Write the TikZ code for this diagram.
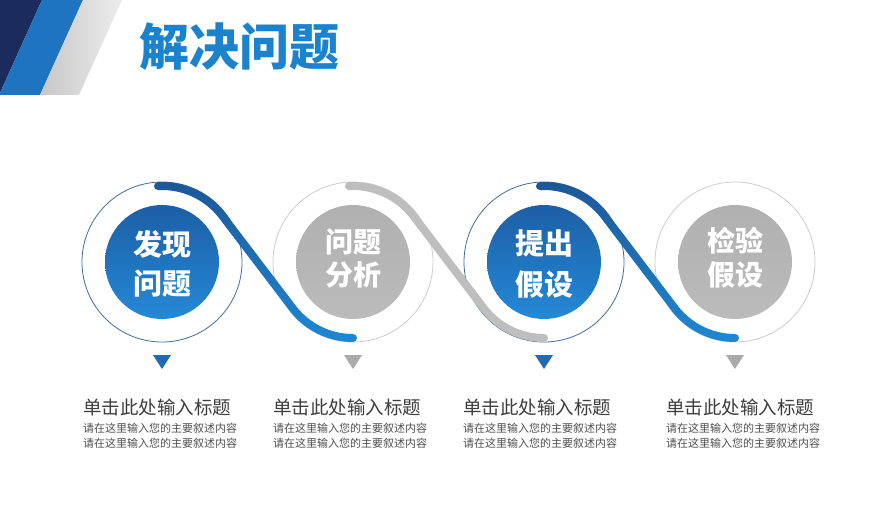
\documentclass[tikz,border=0pt]{standalone}
\usepackage{fontspec}
\newfontfamily\cjk{Noto Sans CJK SC}
\usetikzlibrary{calc}
\definecolor{navy}{HTML}{1B2B5B}
\definecolor{mblue}{HTML}{1E74C0}
\definecolor{tblue}{HTML}{1B83CE}
\definecolor{dblue}{HTML}{1C5798}
\definecolor{lblue}{HTML}{1E88D3}
\definecolor{ringblue}{HTML}{3F6E9E}
\definecolor{ringgray}{HTML}{CDCDCD}
\definecolor{cgraytop}{HTML}{B0B0B0}
\definecolor{cgraybot}{HTML}{BBBBBB}
\definecolor{cbluetop}{HTML}{1C5FA6}
\definecolor{cbluebot}{HTML}{2589D6}
\definecolor{sgray}{HTML}{BEBEBE}
\definecolor{tgray}{HTML}{AAAAAA}
\definecolor{tbluetri}{HTML}{1E6AB3}
\definecolor{htext}{HTML}{3D3D3D}
\definecolor{btext}{HTML}{505050}
\tikzset{
  ring/.style={circle, draw=#1, line width=0.8pt, minimum size=160pt, inner sep=0pt},
  coreblue/.style={circle, minimum size=114pt, inner sep=0pt, top color=cbluetop, bottom color=cbluebot},
  coregray/.style={circle, minimum size=114pt, inner sep=0pt, top color=cgraytop, bottom color=cgraybot},
  incircle/.style={text=white, font=\cjk\bfseries\fontsize{#1}{#1}\selectfont, inner sep=0pt},
  headtxt/.style={anchor=west, inner sep=0pt, text=htext, font=\cjk\fontsize{18.5}{20}\selectfont},
  bodytxt/.style={anchor=west, inner sep=0pt, text=btext, font=\cjk\fontsize{11}{12}\selectfont},
}
\newcommand\Sseg[3]{%
 \path[#3] ($(#1)+(93:80)$) arc[start angle=93, end angle=\al, radius=80]
   -- ($(#2)+(180+\al:72)$) arc[start angle=180+\al, end angle=270, radius=72]
   arc[start angle=90, end angle=-90, radius=4]
   arc[start angle=270, end angle=180+\al, radius=80]
   -- ($(#1)+(\al:72)$) arc[start angle=\al, end angle=93, radius=72]
   arc[start angle=273, end angle=93, radius=4] -- cycle;}
\begin{document}
\begin{tikzpicture}[x=1pt,y=1pt]
\useasboundingbox (0,0) rectangle (896,504);
\fill[white] (0,0) rectangle (896,504);
\pgfmathsetmacro\al{acos(152/191)}
% corner stripes
\fill[navy] (0,504) -- (42,504) -- (0,411) -- cycle;
\fill[mblue] (42,504) -- (83,504) -- (40,409) -- (0,409) -- (0,411) -- cycle;
\shade[left color=black!22, right color=black!7] (83,504) -- (122,504) -- (79,409) -- (40,409) -- cycle;
% title
\node[font=\cjk\bfseries\fontsize{50}{50}\selectfont, text=tblue, inner sep=0pt] (title) at (239,457) {解决问题};
% centres
\coordinate (c1) at (162,242);
\coordinate (c2) at (353,242);
\coordinate (c3) at (544,242);
\coordinate (c4) at (735,242);
% rings and cores
\node[ring=ringblue] (o1) at (c1) {};
\node[ring=ringgray] (o2) at (c2) {};
\node[ring=ringblue] (o3) at (c3) {};
\node[ring=ringgray] (o4) at (c4) {};
\node[coreblue] (k1) at (c1) {};
\node[coregray] (k2) at (c2) {};
\node[coreblue] (k3) at (c3) {};
\node[coregray] (k4) at (c4) {};
% S curves
\Sseg{c1}{c2}{shade, top color=dblue, bottom color=lblue}
\Sseg{c2}{c3}{fill=sgray}
\Sseg{c3}{c4}{shade, top color=dblue, bottom color=lblue}
% circle texts
\node[incircle=29] (t1a) at (162,260) {发现};
\node[incircle=29] (t1b) at (162,220) {问题};
\node[incircle=28] (t2a) at (353,262.5) {问题};
\node[incircle=28] (t2b) at (353,229.5) {分析};
\node[incircle=29] (t3a) at (544,261) {提出};
\node[incircle=29] (t3b) at (544,219) {假设};
\node[incircle=28] (t4a) at (735,263) {检验};
\node[incircle=28] (t4b) at (735,229) {假设};
% triangles
\fill[tbluetri] ($(c1)+(-9,-93)$) -- ($(c1)+(9,-93)$) -- ($(c1)+(0,-107)$) -- cycle;
\fill[tgray] ($(c2)+(-9,-93)$) -- ($(c2)+(9,-93)$) -- ($(c2)+(0,-107)$) -- cycle;
\fill[tbluetri] ($(c3)+(-9,-93)$) -- ($(c3)+(9,-93)$) -- ($(c3)+(0,-107)$) -- cycle;
\fill[tgray] ($(c4)+(-9,-93)$) -- ($(c4)+(9,-93)$) -- ($(c4)+(0,-107)$) -- cycle;
% text blocks
\foreach \n/\x in {1/83, 2/273, 3/463, 4/666}{
  \node[headtxt] (h\n) at (\x,97) {单击此处输入标题};
  \node[bodytxt] (b\n a) at (\x,76) {请在这里输入您的主要叙述内容};
  \node[bodytxt] (b\n b) at (\x,60.5) {请在这里输入您的主要叙述内容};
}
\end{tikzpicture}
\end{document}
